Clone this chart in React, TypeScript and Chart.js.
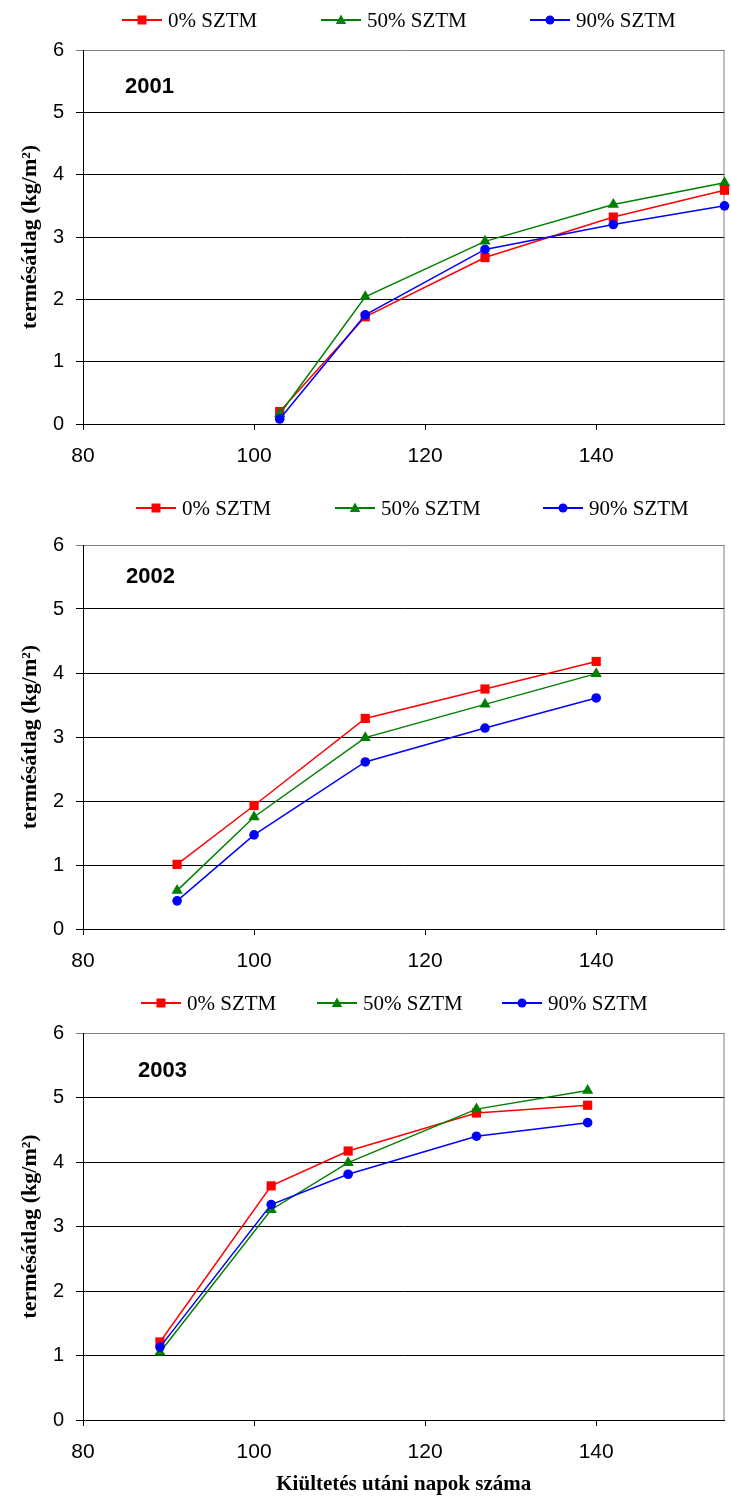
import React, { useEffect, useRef } from 'react';
import { Chart, registerables } from 'chart.js';

Chart.register(...registerables);

const SERIES_LABELS = ['0% SZTM', '50% SZTM', '90% SZTM'];
const X_TICKS = [80, 100, 120, 140];
const X_MIN = 80;
const X_MAX = 155;
const Y_MIN = 0;
const Y_MAX = 6;
const Y_TITLE = 'termésátlag (kg/m²)';
const X_TITLE = 'Kiültetés utáni napok száma';

const DAYS_2001 = [103, 113, 127, 142, 155];
const S0_2001 = [0.2, 1.72, 2.67, 3.32, 3.75];
const S50_2001 = [0.16, 2.04, 2.93, 3.52, 3.87];
const S90_2001 = [0.08, 1.75, 2.8, 3.2, 3.5];

const DAYS_2002 = [91, 100, 113, 127, 140];
const S0_2002 = [1.01, 1.93, 3.29, 3.75, 4.18];
const S50_2002 = [0.6, 1.75, 2.99, 3.51, 3.99];
const S90_2002 = [0.44, 1.47, 2.61, 3.14, 3.61];

const DAYS_2003 = [89, 102, 111, 126, 139];
const S0_2003 = [1.21, 3.63, 4.17, 4.76, 4.88];
const S50_2003 = [1.05, 3.26, 3.99, 4.82, 5.11];
const S90_2003 = [1.13, 3.34, 3.81, 4.4, 4.61];

const COLORS = ['#FF0000', '#008000', '#0000FF'];
const STYLES = ['rect', 'triangle', 'circle'];

function drawMarker(ctx: CanvasRenderingContext2D, style: string, cx: number, cy: number, color: string) {
  ctx.save();
  ctx.fillStyle = color;
  ctx.beginPath();
  if (style === 'rect') {
    ctx.rect(cx - 4.5, cy - 4.5, 9, 9);
  } else if (style === 'triangle') {
    ctx.moveTo(cx, cy - 5.5);
    ctx.lineTo(cx + 5.2, cy + 4);
    ctx.lineTo(cx - 5.2, cy + 4);
    ctx.closePath();
  } else {
    ctx.arc(cx, cy, 4.5, 0, Math.PI * 2);
  }
  ctx.fill();
  ctx.restore();
}

const legendPlugin = {
  id: 'customLegend',
  afterDraw(chart: any, _args: any, opts: any) {
    const ctx = chart.ctx as CanvasRenderingContext2D;
    const xs: number[] = opts.xs;
    const y: number = opts.y;
    chart.data.datasets.forEach((ds: any, i: number) => {
      const x = xs[i];
      ctx.save();
      ctx.strokeStyle = ds.borderColor;
      ctx.lineWidth = 2;
      ctx.beginPath();
      ctx.moveTo(x, y);
      ctx.lineTo(x + 40, y);
      ctx.stroke();
      drawMarker(ctx, STYLES[i], x + 20, y, ds.borderColor);
      ctx.fillStyle = '#000';
      ctx.font = '21px "Liberation Serif", serif';
      ctx.textBaseline = 'middle';
      ctx.textAlign = 'left';
      ctx.fillText(ds.label, x + 46, y + 1);
      ctx.restore();
    });
  },
};

const yearPlugin = {
  id: 'yearLabel',
  afterDraw(chart: any, _args: any, opts: any) {
    const ctx = chart.ctx as CanvasRenderingContext2D;
    ctx.save();
    ctx.fillStyle = '#000';
    ctx.font = 'bold 22px "Liberation Sans", Arial, sans-serif';
    ctx.textBaseline = 'middle';
    ctx.textAlign = 'left';
    ctx.fillText(opts.text, opts.x, opts.y);
    ctx.restore();
  },
};

const borderPlugin = {
  id: 'plotBorder',
  beforeDatasetsDraw(chart: any) {
    const { ctx, chartArea } = chart;
    ctx.save();
    ctx.strokeStyle = '#808080';
    ctx.lineWidth = 1;
    ctx.beginPath();
    ctx.moveTo(chartArea.right - 0.5, chartArea.top);
    ctx.lineTo(chartArea.right - 0.5, chartArea.bottom);
    ctx.stroke();
    ctx.restore();
  },
};

type PanelProps = {
  year: string;
  days: number[];
  s0: number[];
  s50: number[];
  s90: number[];
  height: number;
  top: number;
  bottom: number;
  legendXs: number[];
  legendY: number;
  yearX: number;
  yearY: number;
  showXTitle: boolean;
};

function Panel(p: PanelProps) {
  const ref = useRef<HTMLCanvasElement>(null);
  useEffect(() => {
    const series = [p.s0, p.s50, p.s90];
    const orders = [2, 1, 0];
    const radii = [6.5, 6.5, 4.8];
    const chart = new Chart(ref.current as HTMLCanvasElement, {
      type: 'line',
      data: {
        datasets: series.map((s, i) => ({
          label: SERIES_LABELS[i],
          data: p.days.map((d, j) => ({ x: d, y: s[j] })),
          borderColor: COLORS[i],
          backgroundColor: COLORS[i],
          pointBackgroundColor: COLORS[i],
          pointBorderColor: COLORS[i],
          pointStyle: STYLES[i] as any,
          pointRadius: radii[i],
          pointBorderWidth: 0,
          borderWidth: 1.5,
          tension: 0,
          order: orders[i],
          clip: false as any,
        })),
      },
      options: {
        animation: false,
        responsive: false,
        devicePixelRatio: 1,
        layout: { padding: { top: p.top, right: 4, left: 0, bottom: 0 } },
        plugins: {
          legend: { display: false },
          tooltip: { enabled: false },
          customLegend: { xs: p.legendXs, y: p.legendY },
          yearLabel: { text: p.year, x: p.yearX, y: p.yearY },
        } as any,
        scales: {
          x: {
            type: 'linear',
            min: X_MIN,
            max: X_MAX,
            afterBuildTicks: (s: any) => {
              s.ticks = X_TICKS.map((v) => ({ value: v }));
            },
            afterFit: (s: any) => {
              s.height = p.height - p.bottom;
            },
            grid: { drawOnChartArea: false, drawTicks: true, tickLength: 6, color: '#000' },
            border: { color: '#000', width: 1 },
            ticks: {
              font: { family: '"Liberation Sans", Arial, sans-serif', size: 21 },
              color: '#000',
              padding: 14,
              maxRotation: 0,
              autoSkip: false,
            },
            title: {
              display: p.showXTitle,
              text: X_TITLE,
              color: '#000',
              font: { family: '"Liberation Serif", serif', size: 21, weight: 'bold' },
              padding: { top: 0, bottom: 0 },
            },
          },
          y: {
            type: 'linear',
            min: Y_MIN,
            max: Y_MAX,
            afterFit: (s: any) => {
              s.width = 83;
            },
            grid: {
              color: (c: any) => (c.tick && c.tick.value === Y_MAX ? '#808080' : '#000'),
              tickLength: 7,
              lineWidth: 1,
            },
            border: { color: '#000', width: 1 },
            ticks: {
              stepSize: 1,
              font: { family: '"Liberation Sans", Arial, sans-serif', size: 20 },
              color: '#000',
              padding: 12,
            },
            title: {
              display: true,
              text: Y_TITLE,
              color: '#000',
              font: { family: '"Liberation Serif", serif', size: 22, weight: 'bold' },
              padding: { top: 17, bottom: 0 },
            },
          },
        },
      },
      plugins: [legendPlugin, yearPlugin, borderPlugin],
    });
    return () => chart.destroy();
  }, []);
  return (
    <canvas
      ref={ref}
      width={731}
      height={p.height}
      style={{ display: 'block', width: 731, height: p.height }}
    />
  );
}

export default function App() {
  return (
    <div style={{ position: 'absolute', left: 0, top: 0, width: 731, background: '#fff' }}>
      <Panel
        year="2001"
        days={DAYS_2001}
        s0={S0_2001}
        s50={S50_2001}
        s90={S90_2001}
        height={490}
        top={50}
        bottom={424}
        legendXs={[122, 321, 530]}
        legendY={20}
        yearX={125}
        yearY={87}
        showXTitle={false}
      />
      <Panel
        year="2002"
        days={DAYS_2002}
        s0={S0_2002}
        s50={S50_2002}
        s90={S90_2002}
        height={495}
        top={55}
        bottom={439}
        legendXs={[136, 335, 543]}
        legendY={18}
        yearX={126}
        yearY={87}
        showXTitle={false}
      />
      <Panel
        year="2003"
        days={DAYS_2003}
        s0={S0_2003}
        s50={S50_2003}
        s90={S90_2003}
        height={512}
        top={48}
        bottom={435}
        legendXs={[141, 317, 502]}
        legendY={18}
        yearX={138}
        yearY={86}
        showXTitle={true}
      />
    </div>
  );
}
